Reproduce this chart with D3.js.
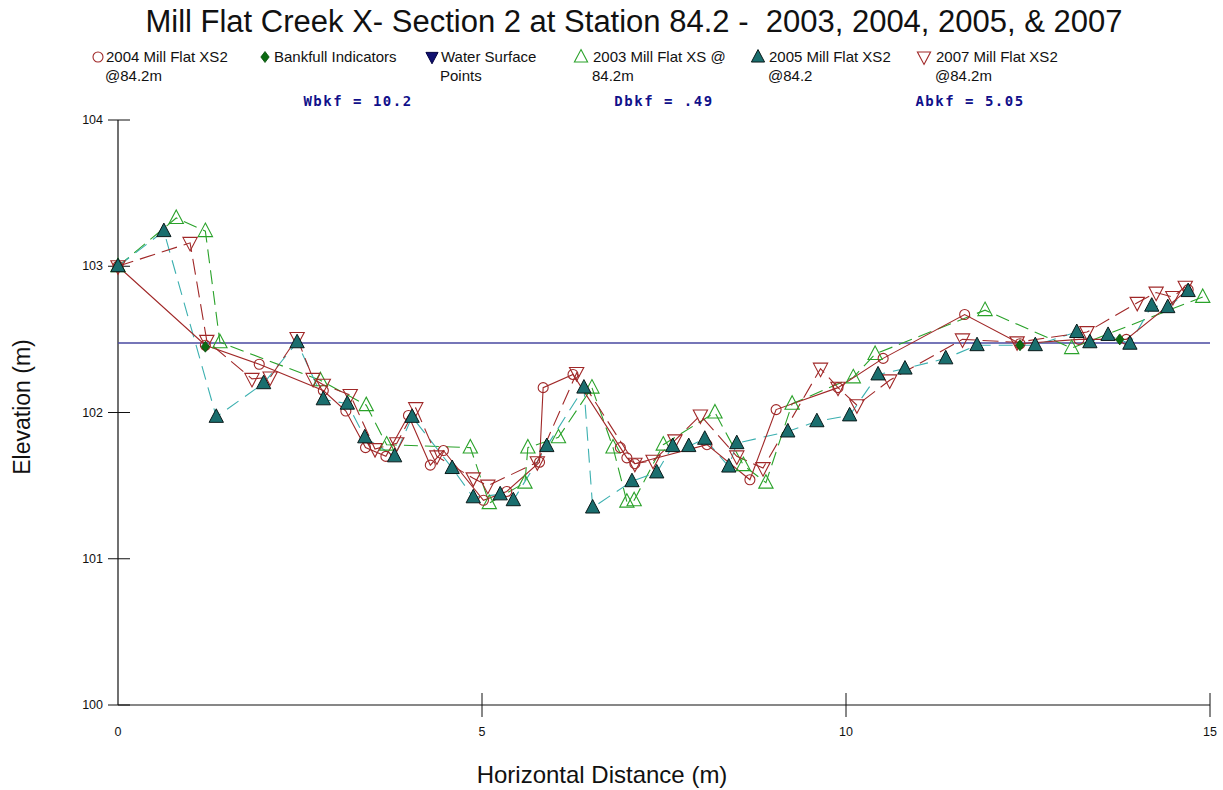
<!DOCTYPE html>
<html>
<head>
<meta charset="utf-8">
<script src="https://cdn.jsdelivr.net/npm/d3@7"></script>
<style>
  body { margin: 0; background: #fff; }
  svg { display: block; font-family: "Liberation Sans", Arial, sans-serif; }
  .pre { white-space: pre; }
</style>
</head>
<body>
<svg id="chart" width="1223" height="790"></svg>
<script>
// Cross-section survey points: [horizontal distance (m), elevation (m)]
const xs2004 = [[0,103.0],[1.2,102.46],[1.94,102.33],[2.82,102.15],[3.13,102.01],[3.4,101.76],[3.68,101.70],[3.99,101.98],[4.29,101.64],[4.47,101.74],[5.02,101.40],[5.34,101.46],[5.79,101.66],[5.84,102.17],[6.25,102.26],[6.9,101.76],[6.99,101.69],[7.10,101.65],[8.09,101.78],[8.68,101.54],[9.04,102.02],[9.89,102.17],[10.51,102.37],[11.63,102.67],[12.39,102.47],[13.2,102.50],[13.85,102.50],[14.7,102.84]];
const xs2003 = [[0,103.0],[0.80,103.33],[1.2,103.24],[1.40,102.48],[2.78,102.22],[3.41,102.05],[3.69,101.78],[4.84,101.76],[5.10,101.38],[5.59,101.52],[5.63,101.76],[6.05,101.83],[6.51,102.17],[6.80,101.76],[6.99,101.39],[7.09,101.40],[7.49,101.78],[8.20,102.0],[8.59,101.64],[8.90,101.52],[9.26,102.06],[10.10,102.24],[10.40,102.40],[11.91,102.70],[13.1,102.44],[14.9,102.79]];
const xs2005 = [[0,103.0],[0.63,103.24],[1.35,101.97],[2.0,102.20],[2.46,102.48],[2.82,102.09],[3.15,102.06],[3.39,101.83],[3.80,101.70],[4.04,101.97],[4.59,101.62],[4.88,101.42],[5.25,101.44],[5.43,101.40],[5.89,101.77],[6.40,102.17],[6.52,101.35],[7.06,101.53],[7.40,101.59],[7.62,101.77],[7.84,101.77],[8.06,101.82],[8.39,101.63],[8.50,101.79],[9.20,101.87],[9.60,101.94],[10.05,101.98],[10.44,102.26],[10.81,102.30],[11.37,102.37],[11.8,102.46],[12.60,102.46],[13.17,102.55],[13.35,102.48],[13.6,102.53],[13.9,102.47],[14.2,102.73],[14.42,102.72],[14.7,102.83]];
const xs2007 = [[0,103.0],[0.99,103.16],[1.22,102.49],[1.84,102.23],[2.09,102.24],[2.46,102.51],[2.68,102.23],[2.82,102.19],[3.19,102.12],[3.53,101.75],[3.83,101.79],[4.09,102.03],[4.38,101.70],[4.88,101.55],[5.08,101.50],[5.76,101.66],[6.30,102.27],[7.10,101.65],[7.35,101.67],[7.65,101.81],[8.0,101.98],[8.50,101.70],[8.86,101.62],[9.65,102.30],[9.89,102.17],[10.15,102.05],[10.60,102.22],[11.6,102.50],[12.35,102.48],[13.31,102.55],[14.0,102.75],[14.26,102.82],[14.49,102.79],[14.66,102.86]];
const bankfullPts = [[1.2,102.45],[12.39,102.46],[13.76,102.50]];
const bankfullElev = 102.475;
const xTicks = [0,5,10,15];
const yTicks = [100,101,102,103,104];
const bkfLabels = ["Wbkf = 10.2", "Dbkf = .49", "Abkf = 5.05"];
const legendNames = [["2004 Mill Flat XS2","@84.2m"],["Bankfull Indicators"],["Water Surface","Points"],["2003 Mill Flat XS @","84.2m"],["2005 Mill Flat XS2","@84.2"],["2007 Mill Flat XS2","@84.2m"]];

const svg = d3.select("#chart");
const x = d3.scaleLinear().domain([0, 15]).range([118, 1210]);
const y = d3.scaleLinear().domain([100, 104]).range([705, 120]);

const C2004 = "#a02828", C2003 = "#2aa22a", C2005L = "#3cb0b0", C2005F = "#1a6e6e", C2007 = "#a02828";
const CBF = "#4848a0";

// title
svg.append("text").attr("class", "pre").attr("x", 634).attr("y", 32).attr("text-anchor", "middle")
  .attr("font-size", 31).attr("fill", "#111")
  .text("Mill Flat Creek X- Section 2 at Station 84.2 -  2003, 2004, 2005, & 2007");

// marker shapes
const tri = (s) => `M0,${-s*0.62}L${s*0.55},${s*0.42}L${-s*0.55},${s*0.42}Z`;
const triDown = (s) => `M0,${s*0.62}L${s*0.55},${-s*0.42}L${-s*0.55},${-s*0.42}Z`;
const diamond = (s) => `M0,${-s/2}L${s*0.38},0L0,${s/2}L${-s*0.38},0Z`;

function drawMarker(g, type, cx, cy, big) {
  const sz = big ? 13 : 12;
  if (type === "circle") {
    g.append("circle").attr("cx", cx).attr("cy", cy).attr("r", 5).attr("fill", "none").attr("stroke", C2004).attr("stroke-width", 1.1);
  } else if (type === "diamond") {
    g.append("path").attr("transform", `translate(${cx},${cy})`).attr("d", diamond(11)).attr("fill", "#0b6b12").attr("stroke", "#064d0a").attr("stroke-width", 0.8);
  } else if (type === "wsp") {
    g.append("path").attr("transform", `translate(${cx},${cy})`).attr("d", triDown(11)).attr("fill", "#101070").attr("stroke", "#000040");
  } else if (type === "tri2003") {
    g.append("path").attr("transform", `translate(${cx},${cy})`).attr("d", tri(sz)).attr("fill", "none").attr("stroke", C2003).attr("stroke-width", 1.1);
  } else if (type === "tri2005") {
    g.append("path").attr("transform", `translate(${cx},${cy})`).attr("d", tri(sz)).attr("fill", C2005F).attr("stroke", "#0a1a1a").attr("stroke-width", 1);
  } else if (type === "tri2007") {
    g.append("path").attr("transform", `translate(${cx},${cy})`).attr("d", triDown(sz)).attr("fill", "none").attr("stroke", C2007).attr("stroke-width", 1.1);
  }
}

// legend
const legendX = [98, 265, 432, 581, 758, 924];
const legendTextX = [106, 274, 441, 593, 769, 936];
const legendTypes = ["circle", "diamond", "wsp", "tri2003", "tri2005", "tri2007"];
const lg = svg.append("g").attr("font-size", 15).attr("fill", "#111");
legendNames.forEach((lines, i) => {
  drawMarker(lg, legendTypes[i], legendX[i], 57, false);
  lines.forEach((t, j) => {
    lg.append("text").attr("x", legendTextX[i] + (j ? -1 : 0)).attr("y", 62 + j * 19).text(t);
  });
});

// bankfull summary labels
const bkfX = [358, 664, 970];
bkfLabels.forEach((t, i) => {
  svg.append("text").attr("class", "pre").attr("x", bkfX[i]).attr("y", 106).attr("text-anchor", "middle")
    .attr("font-family", "'DejaVu Sans Mono', monospace").attr("font-weight", "bold")
    .attr("font-size", 14).attr("letter-spacing", 1.5).attr("fill", "#10108a").text(t);
});

// axes
const ax = svg.append("g").attr("stroke", "#111").attr("fill", "#111");
ax.append("line").attr("x1", x(0)).attr("x2", x(0)).attr("y1", y(104)).attr("y2", y(100)).attr("stroke-width", 1.2);
ax.append("line").attr("x1", x(0)).attr("x2", x(15)).attr("y1", y(100)).attr("y2", y(100)).attr("stroke-width", 1.2);
yTicks.forEach(v => {
  ax.append("line").attr("x1", x(0) - 10).attr("x2", x(0) + 12).attr("y1", y(v)).attr("y2", y(v));
  ax.append("text").attr("x", x(0) - 15).attr("y", y(v) + 4).attr("text-anchor", "end")
    .attr("stroke", "none").attr("font-size", 12.5).text(v);
});
xTicks.forEach(v => {
  if (v > 0) ax.append("line").attr("x1", x(v)).attr("x2", x(v)).attr("y1", y(100) - 12).attr("y2", y(100) + 12);
  ax.append("text").attr("x", x(v)).attr("y", y(100) + 31).attr("text-anchor", "middle")
    .attr("stroke", "none").attr("font-size", 12.5).text(v);
});

// axis titles
svg.append("text").attr("transform", `translate(30,407) rotate(-90)`).attr("text-anchor", "middle")
  .attr("font-size", 23).attr("fill", "#111").text("Elevation (m)");
svg.append("text").attr("x", 602).attr("y", 783).attr("text-anchor", "middle")
  .attr("font-size", 24).attr("fill", "#111").text("Horizontal Distance (m)");

// bankfull elevation line
svg.append("line").attr("x1", x(0)).attr("x2", x(15)).attr("y1", y(bankfullElev)).attr("y2", y(bankfullElev))
  .attr("stroke", CBF).attr("stroke-width", 1.5);

// survey lines
const line = d3.line().x(d => x(d[0])).y(d => y(d[1]));
const plot = svg.append("g").attr("fill", "none");
plot.append("path").datum(xs2003).attr("d", line).attr("stroke", C2003).attr("stroke-width", 1.1).attr("stroke-dasharray", "14,7");
plot.append("path").datum(xs2005).attr("d", line).attr("stroke", C2005L).attr("stroke-width", 1.1).attr("stroke-dasharray", "14,8");
plot.append("path").datum(xs2007).attr("d", line).attr("stroke", C2007).attr("stroke-width", 1.1).attr("stroke-dasharray", "16,7");
plot.append("path").datum(xs2004).attr("d", line).attr("stroke", C2004).attr("stroke-width", 1.1);

// markers
const mk = svg.append("g");
xs2003.forEach(d => drawMarker(mk, "tri2003", x(d[0]), y(d[1]), true));
xs2007.forEach(d => drawMarker(mk, "tri2007", x(d[0]), y(d[1]), true));
xs2004.forEach(d => drawMarker(mk, "circle", x(d[0]), y(d[1]), true));
xs2005.forEach(d => drawMarker(mk, "tri2005", x(d[0]), y(d[1]), true));
bankfullPts.forEach(d => drawMarker(mk, "diamond", x(d[0]), y(d[1]), true));
</script>
</body>
</html>
